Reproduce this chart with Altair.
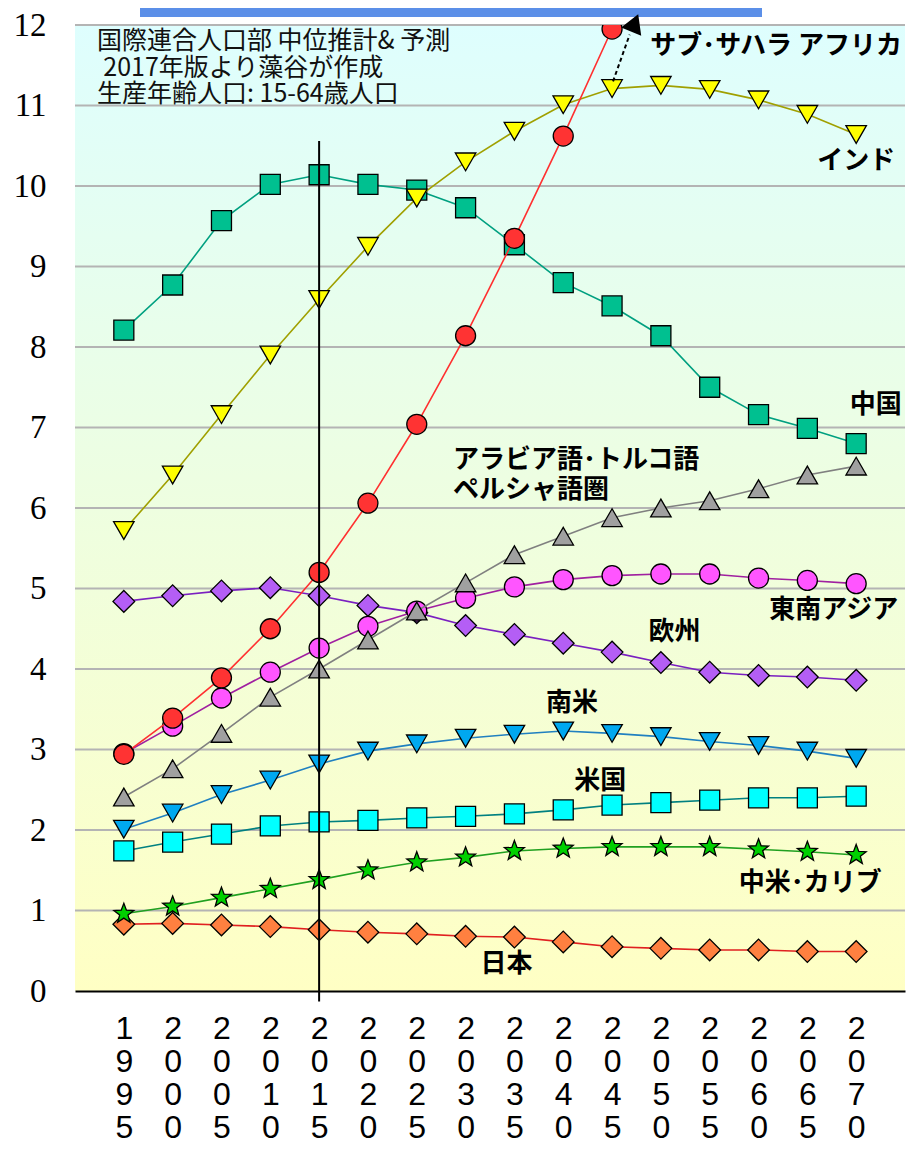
import altair as alt
import pandas as pd

years = [1995, 2000, 2005, 2010, 2015, 2020, 2025, 2030, 2035, 2040, 2045, 2050, 2055, 2060, 2065, 2070]

china = [8.21, 8.77, 9.57, 10.02, 10.14, 10.02, 9.95, 9.73, 9.27, 8.80, 8.51, 8.14, 7.50, 7.16, 6.99, 6.80]
india = [5.72, 6.41, 7.16, 7.90, 8.59, 9.25, 9.85, 10.30, 10.68, 11.01, 11.21, 11.25, 11.20, 11.07, 10.89, 10.64]
ssafrica = [2.94, 3.39, 3.89, 4.50, 5.20, 6.06, 7.04, 8.14, 9.35, 10.62, 11.95]
arab = [2.41, 2.76, 3.20, 3.65, 4.00, 4.36, 4.72, 5.07, 5.42, 5.65, 5.88, 6.00, 6.09, 6.24, 6.41, 6.52]
seasia = [2.95, 3.29, 3.64, 3.96, 4.26, 4.53, 4.72, 4.88, 5.02, 5.11, 5.16, 5.18, 5.18, 5.13, 5.10, 5.06]
europe = [4.84, 4.91, 4.97, 5.01, 4.91, 4.79, 4.70, 4.54, 4.43, 4.32, 4.21, 4.08, 3.96, 3.92, 3.90, 3.86]
samerica = [2.01, 2.21, 2.44, 2.62, 2.82, 2.98, 3.07, 3.14, 3.19, 3.23, 3.20, 3.16, 3.10, 3.05, 2.98, 2.89]
usa = [1.74, 1.85, 1.95, 2.05, 2.10, 2.12, 2.15, 2.17, 2.20, 2.25, 2.31, 2.34, 2.37, 2.40, 2.40, 2.42]
camerica = [0.96, 1.05, 1.16, 1.27, 1.38, 1.50, 1.60, 1.66, 1.74, 1.77, 1.79, 1.79, 1.79, 1.76, 1.73, 1.69]
japan = [0.83, 0.84, 0.82, 0.80, 0.76, 0.73, 0.71, 0.68, 0.67, 0.61, 0.55, 0.53, 0.51, 0.51, 0.49, 0.49]

y_ticks = [0, 1, 2, 3, 4, 5, 6, 7, 8, 9, 10, 11, 12]
grid_values = [1, 2, 3, 4, 5, 6, 7, 8, 9, 10, 11, 12]

STAR = ("M0,-1L0.247,-0.34L0.951,-0.309L0.399,0.13L0.588,0.809L0,0.42"
        "L-0.588,0.809L-0.399,0.13L-0.951,-0.309L-0.247,-0.34Z")

# series drawing order (bottom -> top) and styles
series_values = {
    "日本": japan, "中米・カリブ": camerica, "米国": usa, "南米": samerica,
    "欧州": europe, "東南アジア": seasia, "アラビア語・トルコ語・ペルシャ語圏": arab,
    "中国": china, "インド": india, "サブ・サハラ アフリカ": ssafrica,
}
styles = {
    "日本": dict(line="#E02020", fill="#FF8040", shape="diamond", size=470),
    "中米・カリブ": dict(line="#20A020", fill="#00D000", shape=STAR, size=440),
    "米国": dict(line="#008080", fill="#00FFFF", shape="square", size=400),
    "南米": dict(line="#2080C0", fill="#00A8F0", shape="triangle-down", size=420),
    "欧州": dict(line="#7A20C0", fill="#B45EF5", shape="diamond", size=470),
    "東南アジア": dict(line="#A020A0", fill="#FF55FF", shape="circle", size=400),
    "アラビア語・トルコ語・ペルシャ語圏": dict(line="#808080", fill="#A0A0A0", shape="triangle-up", size=420),
    "中国": dict(line="#00A080", fill="#00C090", shape="square", size=400),
    "インド": dict(line="#A0A000", fill="#FFFF00", shape="triangle-down", size=420),
    "サブ・サハラ アフリカ": dict(line="#FF3030", fill="#FF3333", shape="circle", size=400),
}

# annotation labels (data coordinates)
label_center_text = ["インド", "中国", "東南アジア", "欧州", "南米", "米国", "中米･カリブ", "日本"]
label_center_x = [2070.0, 2072.0, 2067.7, 2051.4, 2040.9, 2043.8, 2065.3, 2034.2]
label_center_y = [10.31, 7.28, 4.73, 4.46, 3.58, 2.61, 1.34, 0.335]

label_left_text = ["サブ･サハラ アフリカ", "アラビア語･トルコ語", "ペルシャ語圏"]
label_left_x = [2048.9, 2028.7, 2028.7]
label_left_y = [11.74, 6.60, 6.22]

note_text = ["国際連合人口部 中位推計& 予測", "2017年版より藻谷が作成", "生産年齢人口: 15-64歳人口"]
note_x = [1992.25, 1992.9, 1992.25]
note_y = [11.80, 11.47, 11.14]

marker_year = [2015]
marker_top = [10.56]
marker_bottom = [-0.13]

arrow_x = [2045.1]
arrow_y = [11.30]
arrow_x2 = [2046.8]
arrow_y2 = [11.88]
arrow_head_x = [2047.3]
arrow_head_y = [12.02]

W, H = 830, 966
XS = alt.Scale(domain=[1990, 2075], nice=False, zero=False)
YS = alt.Scale(domain=[0, 12], nice=False, zero=False)

x_axis = alt.Axis(values=years, labelExpr="split(toString(datum.value), '')",
                  labelFont="Liberation Sans", labelFontSize=32, labelLineHeight=33,
                  labelColor="black", labelPadding=22, ticks=False, grid=False,
                  domain=True, domainColor="black", domainWidth=2, title=None,
                  labelAngle=0, labelOverlap=False, labelFlush=False, labelBaseline="top",
                  zindex=1)
y_axis = alt.Axis(values=y_ticks, labelFont="Liberation Serif", labelFontSize=33,
                  labelColor="black", labelPadding=29, ticks=False, domain=False,
                  grid=False, title=None, labelFlush=False, labelOverlap=False, zindex=1)

def X(field="year"):
    return alt.X(f"{field}:Q", scale=XS, axis=x_axis)

def Y(field="value"):
    return alt.Y(f"{field}:Q", scale=YS, axis=y_axis)

gradient = alt.LinearGradient(
    gradient="linear", x1=0, y1=0, x2=0, y2=1,
    stops=[alt.GradientStop(offset=0, color="#DEFEFE"),
           alt.GradientStop(offset=0.5, color="#EEFEE0"),
           alt.GradientStop(offset=1, color="#FFFFC4")])

layers = []
bg = alt.Chart(pd.DataFrame({"a": [0]})).mark_rect(color=gradient).encode(
    x=alt.value(0), x2=alt.value(W), y=alt.value(0), y2=alt.value(H))
layers.append(bg)

grid = alt.Chart(pd.DataFrame({"value": grid_values})).mark_rule(color="#B4B4B4", strokeWidth=2).encode(
    y=Y(), x=alt.value(0), x2=alt.value(W))
layers.append(grid)

bar = alt.Chart(pd.DataFrame({"a": [0]})).mark_rect(color="#5B8FE8").encode(
    x=alt.value(65), x2=alt.value(687), y=alt.value(-19), y2=alt.value(-8))
layers.append(bar)

for name, vals in series_values.items():
    st = styles[name]
    df = pd.DataFrame({"year": years[:len(vals)], "value": vals})
    clip = name == "サブ・サハラ アフリカ"
    base = alt.Chart(df)
    layers.append(base.mark_line(color=st["line"], strokeWidth=1.6, clip=clip).encode(x=X(), y=Y()))
    layers.append(base.mark_point(shape=st["shape"], filled=True, fill=st["fill"], stroke="black",
                                  strokeWidth=1.3, size=st["size"], opacity=1, clip=clip)
                  .encode(x=X(), y=Y()))

vline = alt.Chart(pd.DataFrame({"year": marker_year, "top": marker_top, "bottom": marker_bottom})) \
    .mark_rule(color="black", strokeWidth=2).encode(x=X(), y=Y("top"), y2="bottom:Q")
layers.append(vline)

arrow = alt.Chart(pd.DataFrame({"year": arrow_x, "value": arrow_y, "x2": arrow_x2, "y2": arrow_y2})) \
    .mark_rule(color="black", strokeWidth=2, strokeDash=[4, 3]).encode(x=X(), y=Y(), x2="x2:Q", y2="y2:Q")
layers.append(arrow)
head = alt.Chart(pd.DataFrame({"year": arrow_head_x, "value": arrow_head_y})) \
    .mark_point(shape="triangle-up", angle=22, filled=True, fill="black", stroke="black",
                size=330, opacity=1).encode(x=X(), y=Y())
layers.append(head)

lab_c = alt.Chart(pd.DataFrame({"year": label_center_x, "value": label_center_y, "t": label_center_text})) \
    .mark_text(font="Noto Sans CJK JP", fontSize=26, fontWeight="bold", color="black",
               align="center", baseline="middle").encode(x=X(), y=Y(), text="t:N")
lab_l = alt.Chart(pd.DataFrame({"year": label_left_x, "value": label_left_y, "t": label_left_text})) \
    .mark_text(font="Noto Sans CJK JP", fontSize=26, fontWeight="bold", color="black",
               align="left", baseline="middle").encode(x=X(), y=Y(), text="t:N")
note = alt.Chart(pd.DataFrame({"year": note_x, "value": note_y, "t": note_text})) \
    .mark_text(font="Noto Sans CJK JP", fontSize=25, color="#111111",
               align="left", baseline="middle").encode(x=X(), y=Y(), text="t:N")
layers += [lab_c, lab_l, note]

chart = alt.layer(*layers).properties(
    width=W, height=H,
    autosize=alt.AutoSizeParams(type="none"),
    padding={"top": 17, "left": 67, "right": 11, "bottom": 152},
    background="white",
).configure_view(strokeWidth=0)

chart.save("out.html", embed_options={"renderer": "svg", "actions": False})
